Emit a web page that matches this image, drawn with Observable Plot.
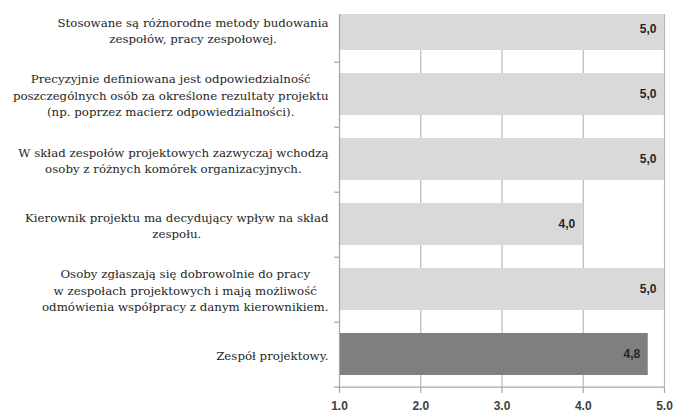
<!DOCTYPE html>
<html>
<head>
<meta charset="utf-8">
<script src="https://cdn.jsdelivr.net/npm/d3@7"></script>
<script src="https://cdn.jsdelivr.net/npm/@observablehq/plot@0.6"></script>
<style>
  body { margin: 0; background: #fff; }
</style>
</head>
<body>
<div id="chart"></div>
<script>
// Survey statements (top to bottom) and their mean scores on a 1–5 scale
const categories = [
  "Stosowane są różnorodne metody budowania\nzespołów, pracy zespołowej.",
  "Precyzyjnie definiowana jest odpowiedzialność\nposzczególnych osób za określone rezultaty projektu\n(np. poprzez macierz odpowiedzialności).",
  "W skład zespołów projektowych zazwyczaj wchodzą\nosoby z różnych komórek organizacyjnych.",
  "Kierownik projektu ma decydujący wpływ na skład\nzespołu.",
  "Osoby zgłaszają się dobrowolnie do pracy\nw zespołach projektowych i mają możliwość\nodmówienia współpracy z danym kierownikiem.",
  "Zespół projektowy."
];
const values = [5.0, 5.0, 5.0, 4.0, 5.0, 4.8];
const summaryCategory = "Zespół projektowy.";
const xTicks = [1, 2, 3, 4, 5];

const W = 675, H = 415;
const marginLeft = 339, marginRight = 11, marginTop = 14, marginBottom = 27;
const yRange = [-4.3, H - marginBottom];
const step = (yRange[1] - yRange[0]) / categories.length;

const light = "#d9d9d9", dark = "#7f7f7f", gridColor = "#b8b8b8", axisColor = "#a6a6a6";
const labelFamily = "DejaVu Serif", labelSize = 11.8;

// Category labels: lines centred on each block, blocks right-aligned to the axis,
// shrunk if the widest line would not fit left of the axis
const ctx = document.createElement("canvas").getContext("2d");
ctx.font = `${labelSize}px '${labelFamily}'`;
const pxPerUnit = (W - marginLeft - marginRight) / (xTicks[xTicks.length - 1] - xTicks[0]);
const labelRight = 328;
const widths = categories.map(c => d3.max(c.split("\n"), l => ctx.measureText(l).width));
const labelScale = Math.min(1, (labelRight - 2) / d3.max(widths));
const fontSize = labelSize * labelScale;
const rows = categories.map((c, i) => ({
  category: c,
  value: values[i],
  labelX: xTicks[0] - (marginLeft - labelRight + widths[i] * labelScale / 2) / pxPerUnit
}));
const fmt = v => v.toFixed(1).replace(".", ",");
const tickLen = 5 / pxPerUnit;

const chart = Plot.plot({
  width: W,
  height: H,
  marginLeft, marginRight, marginTop, marginBottom,
  style: {background: "#fff", overflow: "visible"},
  x: {domain: [xTicks[0], xTicks[xTicks.length - 1]]},
  y: {domain: categories, range: yRange, paddingInner: 0.35, paddingOuter: 0.175, axis: null},
  marks: [
    Plot.ruleX(xTicks.slice(1), {stroke: gridColor, strokeWidth: 1.2}),
    Plot.barX(rows, {
      x1: xTicks[0], x2: "value", y: "category",
      fill: d => d.category === summaryCategory ? dark : light,
      clip: true
    }),
    Plot.ruleX([xTicks[0]], {stroke: axisColor, strokeWidth: 1.2}),
    Plot.ruleY(categories, {x1: xTicks[0] - tickLen, x2: xTicks[0], dy: step / 2, stroke: axisColor, strokeWidth: 1.2}),
    Plot.ruleY([categories[categories.length - 1]], {x1: xTicks[0], x2: xTicks[xTicks.length - 1], dy: step / 2, stroke: axisColor, strokeWidth: 1.2}),
    Plot.axisX({ticks: xTicks, tickSize: 5, text: null, stroke: axisColor, strokeWidth: 1.2}),
    Plot.axisX({
      ticks: xTicks, tickSize: 0, tickPadding: 13, tickFormat: d => d.toFixed(1),
      fontFamily: "Liberation Sans", fontWeight: "bold", fontSize: 12, fill: "#404040"
    }),
    Plot.text(rows, {
      x: "value", y: "category", text: d => fmt(d.value),
      textAnchor: "end", dx: -8,
      fontFamily: "Liberation Sans", fontWeight: "bold", fontSize: 12, fill: "#262626"
    }),
    Plot.text(rows, {
      x: "labelX", y: "category", text: "category",
      textAnchor: "middle", lineHeight: 16.5 / fontSize,
      fontFamily: labelFamily, fontSize, fill: "#262626"
    })
  ]
});
document.getElementById("chart").appendChild(chart);
</script>
</body>
</html>
